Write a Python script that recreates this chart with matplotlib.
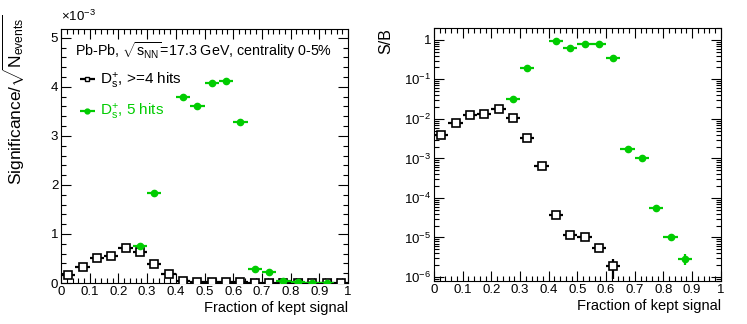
import numpy as np
import matplotlib
matplotlib.use("Agg")
import matplotlib.pyplot as plt
from matplotlib.ticker import MultipleLocator, LogLocator, FuncFormatter, NullFormatter

plt.rcParams['font.family'] = ['Liberation Sans', 'DejaVu Sans']
plt.rcParams['mathtext.fontset'] = 'custom'
plt.rcParams['mathtext.rm'] = 'Liberation Sans'
plt.rcParams['mathtext.it'] = 'Liberation Sans:italic'
plt.rcParams['mathtext.bf'] = 'Liberation Sans:bold'

# bin centres (fraction of kept signal), width 0.05
frac_black = [0.025, 0.075, 0.125, 0.175, 0.225, 0.275, 0.325, 0.375, 0.425, 0.475,
              0.525, 0.575, 0.625, 0.675, 0.725, 0.775, 0.825, 0.875, 0.925, 0.975]
frac_green = [0.275, 0.325, 0.425, 0.475, 0.525, 0.575, 0.625, 0.675, 0.725,
              0.775, 0.825, 0.875, 0.925]

# significance / sqrt(N_events), units of 1e-3
sig_black = [0.16, 0.33, 0.50, 0.56, 0.71, 0.63, 0.39, 0.19, 0.05, 0.03,
             0.03, 0.02, 0.02, 0.01, 0.01, 0.01, 0.01, 0.01, 0.01, 0.01]
sig_green = [0.76, 1.84, 3.79, 3.61, 4.07, 4.11, 3.28, 0.28, 0.22,
             0.05, 0.02, 0.01, 0.01]

# S/B
sb_frac_black = [0.025, 0.075, 0.125, 0.175, 0.225, 0.275, 0.325, 0.375, 0.425,
                 0.475, 0.525, 0.575, 0.625]
sb_black = [3.8e-3, 8.1e-3, 1.23e-2, 1.3e-2, 1.8e-2, 1.07e-2, 3.2e-3, 6.4e-4, 3.8e-5,
            1.15e-5, 1.05e-5, 5.5e-6, 1.9e-6]
sb_black_err = [0, 0, 0, 0, 0, 0, 0, 0, 0, 0, 0, 0, 1.0e-6]
sb_frac_green = [0.275, 0.325, 0.425, 0.475, 0.525, 0.575, 0.625, 0.675, 0.725,
                 0.775, 0.825, 0.875]
sb_green = [3.1e-2, 0.197, 0.93, 0.63, 0.79, 0.79, 0.345, 1.7e-3, 1.0e-3,
            5.6e-5, 1.0e-5, 2.9e-6]
sb_green_err = [0, 0, 0, 0, 0, 0, 0, 0, 0, 0, 0, 0.9e-6]

GREEN = '#00cc00'
half_bin = 0.025

fig = plt.figure(figsize=(7.47, 3.24), dpi=100)
ax1 = fig.add_axes([0.0817, 0.1265, 0.3842, 0.784])
ax2 = fig.add_axes([0.581, 0.1327, 0.384, 0.781])


def root_style(ax):
    ax.tick_params(which='both', direction='in', top=True, right=True, labelsize=9.5,
                   width=0.8, pad=2)
    ax.tick_params(which='major', length=7)
    ax.tick_params(which='minor', length=3.5)
    for s in ax.spines.values():
        s.set_linewidth(0.8)
    ax.set_xlim(0, 1)
    ax.xaxis.set_major_locator(MultipleLocator(0.1))
    ax.xaxis.set_minor_locator(MultipleLocator(0.02))
    ax.xaxis.set_major_formatter(FuncFormatter(lambda v, p: '%g' % round(v, 2)))
    ax.xaxis.get_offset_text().set_visible(False)
    ax.yaxis.get_offset_text().set_visible(False)
    ax.set_xlabel('Fraction of kept signal', fontsize=10.5, loc='right')
    ax.xaxis.set_label_coords(1.0, -0.072)


# left panel
root_style(ax1)
ax1.set_ylim(0, 5.18)
ax1.yaxis.set_major_locator(MultipleLocator(1))
ax1.yaxis.set_minor_locator(MultipleLocator(0.2))
ax1.errorbar(frac_black, sig_black, xerr=half_bin, fmt='s', color='black', mfc='white',
             mec='black', ms=6, mew=1.2, elinewidth=1.6, capsize=0, zorder=3)
ax1.errorbar(frac_green, sig_green, xerr=half_bin, fmt='o', color=GREEN, mfc=GREEN,
             mec=GREEN, ms=4.5, elinewidth=1.6, capsize=0, zorder=4)
ax1.set_ylabel(r'Significance/$\sqrt{\mathrm{N}_{\mathrm{events}}}$', fontsize=12.5,
               loc='top')
ax1.yaxis.set_label_coords(-0.118, 1.055)
fig.text(0.081, 0.925, r'$\times$10$^{-3}$', fontsize=9.5, ha='left', va='bottom')

ax1.text(0.049, 0.955, r'Pb-Pb, $\sqrt{\mathrm{s}_{\mathrm{NN}}}$=17.3 GeV, centrality 0-5%',
         transform=ax1.transAxes, fontsize=10.3, va='top')
h1 = ax1.errorbar([], [], xerr=[], fmt='s', color='black', mfc='white', mec='black',
                  ms=3, mew=1.0, elinewidth=1.6, capsize=0)
h2 = ax1.errorbar([], [], xerr=[], fmt='o', color=GREEN, mfc=GREEN, mec=GREEN,
                  ms=3.5, elinewidth=1.6, capsize=0)
leg = ax1.legend([h1, h2], [r'D$_{\mathrm{s}}^{+}$, >=4 hits', r'D$_{\mathrm{s}}^{+}$, 5 hits'],
                 loc='upper left', bbox_to_anchor=(0.06, 0.835), frameon=False,
                 fontsize=11, handlelength=1.2, handletextpad=0.25, labelspacing=0.75,
                 borderaxespad=0, borderpad=0)
for txt, col in zip(leg.get_texts(), ['black', GREEN]):
    txt.set_color(col)

# right panel
root_style(ax2)
ax2.set_yscale('log')
ax2.set_ylim(7.9e-7, 2.0)
ax2.yaxis.set_major_locator(LogLocator(base=10, numticks=20))
ax2.yaxis.set_minor_locator(LogLocator(base=10, subs=np.arange(2, 10), numticks=20))
ax2.yaxis.set_minor_formatter(NullFormatter())


def log_label(v, p):
    e = int(round(np.log10(v)))
    if e == 0:
        return '1'
    return r'10$^{%d}$' % e


ax2.yaxis.set_major_formatter(FuncFormatter(log_label))
ax2.errorbar(sb_frac_black, sb_black, xerr=half_bin, yerr=sb_black_err, fmt='s',
             color='black', mfc='white', mec='black', ms=6, mew=1.2, elinewidth=1.6,
             capsize=0, zorder=3)
ax2.errorbar(sb_frac_green, sb_green, xerr=half_bin, yerr=sb_green_err, fmt='o',
             color=GREEN, mfc=GREEN, mec=GREEN, ms=4.5, elinewidth=1.6, capsize=0, zorder=4)
ax2.set_ylabel('S/B', fontsize=11.5, loc='top')
ax2.yaxis.set_label_coords(-0.143, 1.0)

fig.savefig('out.png', dpi=100)
